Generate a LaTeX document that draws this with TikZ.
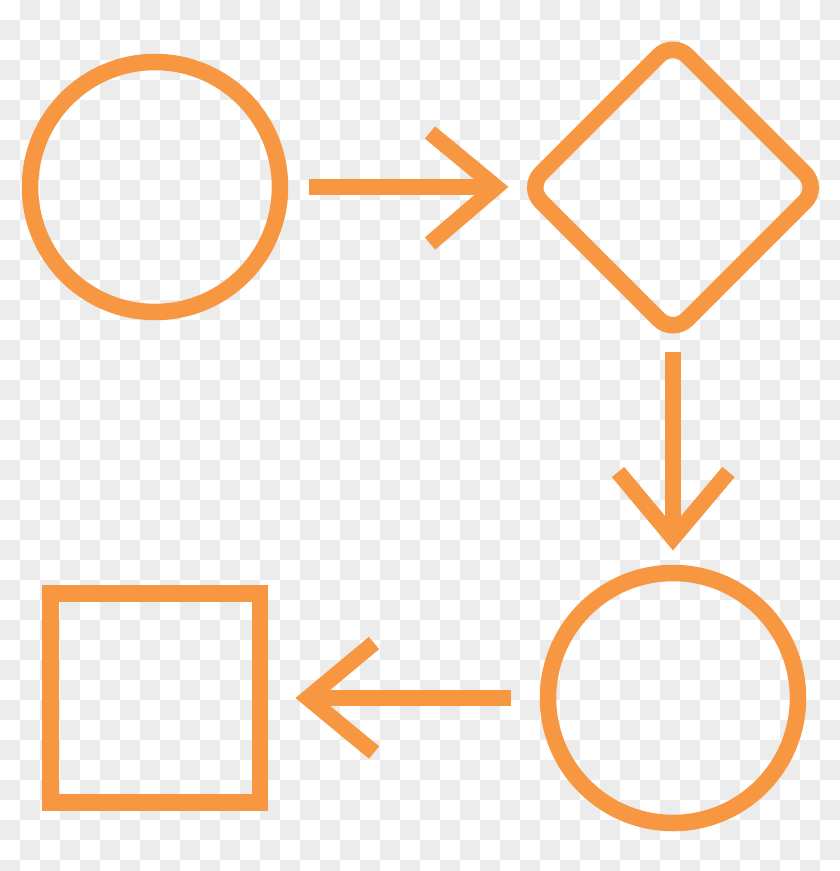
\documentclass[tikz,border=0pt]{standalone}
\usetikzlibrary{shapes.geometric}
\definecolor{flow}{RGB}{247,151,66}
\definecolor{checkgray}{RGB}{236,236,236}
\tikzset{
  shapeline/.style={draw=flow, line width=16.5pt, inner sep=0pt, outer sep=0pt},
  conn/.style={draw=flow, line width=16pt, line cap=butt},
  chevron/.style={draw=flow, line width=16pt, line cap=butt, line join=miter, miter limit=10},
}
\begin{document}
\begin{tikzpicture}[x=1pt,y=-1pt]
\useasboundingbox (0,0) rectangle (840,871);
\fill[white] (0,0) rectangle (840,871);
\begin{scope}
\clip (0,0) rectangle (840,871);
\foreach \i in {0,...,41}{
  \foreach \j in {0,...,43}{
    \pgfmathtruncatemacro{\myparity}{mod(\i+\j,2)}
    \ifnum\myparity=1
      \fill[checkgray] (\i*20,\j*20) rectangle ++(20,20);
    \fi
  }
}
\end{scope}
% shapes
\node[shapeline, circle, minimum size=250pt] (c1) at (155,187) {};
\node[shapeline, diamond, minimum width=292pt, minimum height=292pt, rounded corners=20pt] (d1) at (673,187.5) {};
\node[shapeline, circle, minimum size=250pt] (c2) at (673,698) {};
\node[shapeline, rectangle, minimum width=209.5pt, minimum height=209pt] (s1) at (155,698) {};
% connector 1: c1 -> d1
\coordinate (a1s) at (309.3,187);
\coordinate (a1t) at (496,187);
\coordinate (a1u) at (430,132.5);
\coordinate (a1d) at (430,243.5);
\draw[conn] (a1s) -- (a1t);
\draw[chevron] (a1u) -- (a1t) -- (a1d);
% connector 2: d1 -> c2
\coordinate (a2s) at (673,352);
\coordinate (a2t) at (673,538);
\coordinate (a2l) at (618,472);
\coordinate (a2r) at (728.5,472);
\draw[conn] (a2s) -- (a2t);
\draw[chevron] (a2l) -- (a2t) -- (a2r);
% connector 3: c2 -> s1
\coordinate (a3s) at (511,698);
\coordinate (a3t) at (308,698);
\coordinate (a3u) at (374,643);
\coordinate (a3d) at (374,752.5);
\draw[conn] (a3s) -- (a3t);
\draw[chevron] (a3u) -- (a3t) -- (a3d);
\end{tikzpicture}
\end{document}
